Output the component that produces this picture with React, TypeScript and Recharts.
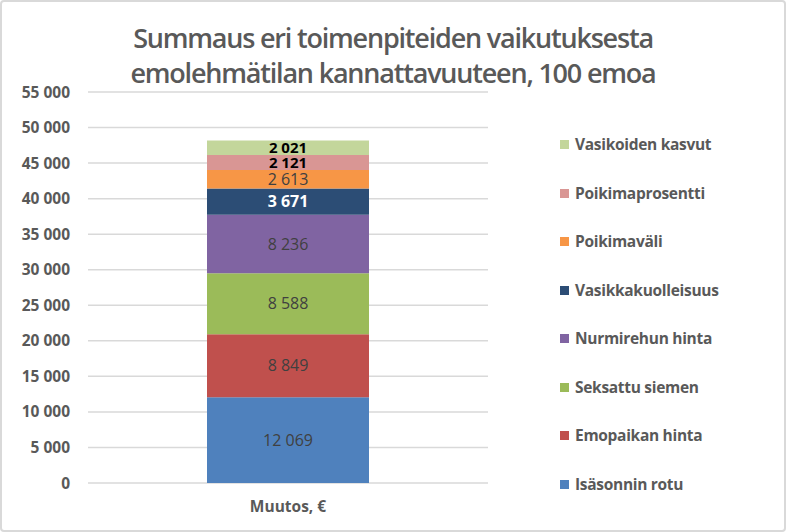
import React from "react";
import { BarChart, Bar, XAxis, YAxis, CartesianGrid, LabelList } from "recharts";

const categories = ["Muutos, €"];
const seriesNames = [
  "Isäsonnin rotu",
  "Emopaikan hinta",
  "Seksattu siemen",
  "Nurmirehun hinta",
  "Vasikkakuolleisuus",
  "Poikimaväli",
  "Poikimaprosentti",
  "Vasikoiden kasvut",
];
const seriesValues = [12069, 8849, 8588, 8236, 3671, 2613, 2121, 2021];
const seriesColors = ["#4F81BD", "#C0504D", "#9BBB59", "#8064A2", "#2C4D75", "#F79646", "#D99694", "#C3D69B"];
const labelColors = ["#404040", "#404040", "#404040", "#404040", "#FFFFFF", "#404040", "#000000", "#000000"];
const labelWeights = [400, 400, 400, 400, 700, 400, 700, 700];
const labelSizes = [16, 16, 16, 16, 16, 16, 15, 15];
const yTicks = [0, 5000, 10000, 15000, 20000, 25000, 30000, 35000, 40000, 45000, 50000, 55000];
const titleLines = ["Summaus eri toimenpiteiden vaikutuksesta", "emolehmätilan kannattavuuteen, 100 emoa"];

const data = categories.map((c) => {
  const row: Record<string, string | number> = { name: c };
  seriesNames.forEach((s, i) => {
    row["s" + i] = seriesValues[i];
  });
  return row;
});

const fmt = (v: any) => String(Math.round(Number(v))).replace(/\B(?=(\d{3})+(?!\d))/g, " ");

const FONT = "'Open Sans', 'DejaVu Sans', sans-serif";

export default function App() {
  return (
    <div
      style={{
        position: "absolute",
        left: 0,
        top: 0,
        width: 786,
        height: 532,
        boxSizing: "border-box",
        border: "2px solid #d9d9d9",
        borderRadius: 4,
        background: "#fff",
        fontFamily: FONT,
        overflow: "hidden",
      }}
    >
      <div
        style={{
          position: "absolute",
          left: 0,
          top: 18,
          width: 782,
          textAlign: "center",
          color: "#595959",
          fontSize: 27,
          fontWeight: 600,
          lineHeight: "35px",
          letterSpacing: -1.2,
        }}
      >
        {titleLines.map((t) => (
          <div key={t}>{t}</div>
        ))}
      </div>
      <div style={{ position: "absolute", left: -2, top: -2 }}>
        <BarChart width={786} height={532} data={data} margin={{ top: 92, right: 298, bottom: 19, left: 0 }}>
          <CartesianGrid horizontal vertical={false} stroke="#d9d9d9" strokeWidth={1.5} />
          <XAxis
            dataKey="name"
            axisLine={false}
            tickLine={false}
            height={30}
            tickSize={0}
            tickMargin={18}
            tick={{ fill: "#595959", fontSize: 15.5, fontWeight: 700, fontFamily: FONT }}
          />
          <YAxis
            width={88}
            domain={[0, 55000]}
            ticks={yTicks}
            interval={0}
            axisLine={false}
            tickLine={false}
            tickSize={0}
            tickMargin={18}
            tickFormatter={fmt}
            tick={{ fill: "#595959", fontSize: 15.5, fontWeight: 700, fontFamily: FONT }}
          />
          {seriesNames.map((s, i) => (
            <Bar key={s} dataKey={"s" + i} name={s} stackId="a" fill={seriesColors[i]} barSize={162} isAnimationActive={false}>
              <LabelList
                dataKey={"s" + i}
                position="center"
                formatter={fmt}
                fill={labelColors[i]}
                style={{ fontSize: labelSizes[i], fontWeight: labelWeights[i], fontFamily: FONT }}
              />
            </Bar>
          ))}
        </BarChart>
      </div>
      <div style={{ position: "absolute", left: 558, top: 131 }}>
        {seriesNames
          .map((s, i) => ({ s, i }))
          .reverse()
          .map(({ s, i }) => (
            <div key={s} style={{ height: 48.5, display: "flex", alignItems: "flex-start" }}>
              <span
                style={{ display: "inline-block", width: 9, height: 9, background: seriesColors[i], marginTop: 7, marginRight: 6 }}
              />
              <span style={{ color: "#595959", fontSize: 15.5, fontWeight: 700, lineHeight: "22px", letterSpacing: -0.3 }}>{s}</span>
            </div>
          ))}
      </div>
    </div>
  );
}
